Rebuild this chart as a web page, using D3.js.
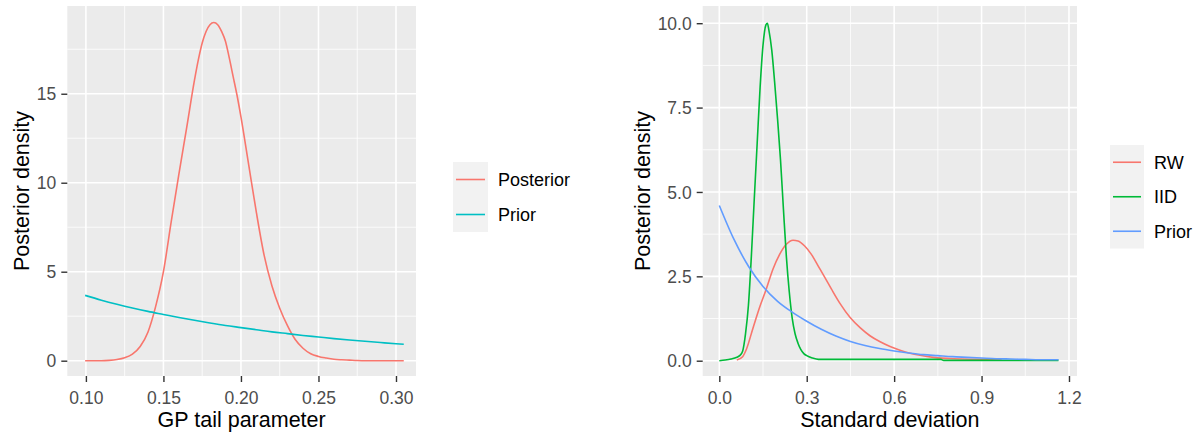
<!DOCTYPE html>
<html>
<head>
<meta charset="utf-8">
<script src="https://cdn.jsdelivr.net/npm/d3@7/dist/d3.min.js"></script>
<style>
  html, body { margin: 0; padding: 0; background: #ffffff; }
  svg { display: block; font-family: "Liberation Sans", Arial, sans-serif; }
</style>
</head>
<body>
<svg id="chart" width="1201" height="436"></svg>
<script>
// ---- GP tail parameter: posterior and prior densities ----
const tailX = [0.0995, 0.105, 0.110, 0.115, 0.120, 0.125, 0.130, 0.135, 0.140, 0.145,
  0.150, 0.155, 0.160, 0.165, 0.170, 0.1725, 0.175, 0.1775, 0.180, 0.1825, 0.185,
  0.1875, 0.190, 0.1925, 0.195, 0.1975, 0.200, 0.205, 0.210, 0.215, 0.220, 0.225,
  0.230, 0.235, 0.240, 0.245, 0.250, 0.255, 0.260, 0.265, 0.270, 0.275, 0.280,
  0.290, 0.305];
const tailPosterior = [0, 0, 0, 0.02, 0.07, 0.17, 0.37, 0.80, 1.60, 3.05,
  5.0, 7.8, 10.5, 13.1, 15.75, 16.9, 17.85, 18.5, 18.88, 19.0, 18.88,
  18.5, 17.95, 17.0, 15.95, 14.9, 13.7, 11.0, 8.3, 5.9, 4.2, 2.95,
  1.97, 1.19, 0.70, 0.39, 0.24, 0.15, 0.08, 0.05, 0.03, 0.01, 0,
  0, 0];
const tailPriorX = [0.0995, 0.11, 0.12, 0.13, 0.14, 0.15, 0.16, 0.17, 0.18, 0.19, 0.20,
  0.21, 0.22, 0.23, 0.24, 0.25, 0.26, 0.27, 0.28, 0.29, 0.30, 0.305];
const tailPrior = [3.67, 3.40, 3.17, 2.96, 2.77, 2.60, 2.43, 2.27, 2.12, 1.98, 1.86,
  1.74, 1.62, 1.52, 1.42, 1.33, 1.24, 1.16, 1.09, 1.02, 0.95, 0.92];
const tailSeries = ["Posterior", "Prior"];
const tailXTicks = [0.10, 0.15, 0.20, 0.25, 0.30];
const tailXMinor = [0.125, 0.175, 0.225, 0.275];
const tailYTicks = [0, 5, 10, 15];
const tailYMinor = [2.5, 7.5, 12.5, 17.5];

// ---- Standard deviation: RW, IID and prior densities ----
const rwX = [0.06, 0.08, 0.093, 0.116, 0.139, 0.161, 0.184, 0.207, 0.230, 0.253, 0.270,
  0.293, 0.316, 0.339, 0.362, 0.385, 0.414, 0.449, 0.483, 0.517, 0.552, 0.586,
  0.620, 0.655, 0.689, 0.735, 0.803, 0.918, 0.969];
const rwY = [0.02, 0.12, 0.34, 0.98, 1.60, 2.12, 2.71, 3.15, 3.45, 3.57, 3.55,
  3.40, 3.15, 2.81, 2.47, 2.12, 1.70, 1.28, 0.98, 0.74, 0.56, 0.42,
  0.31, 0.22, 0.16, 0.10, 0.06, 0.04, 0.04];
const iidX = [0.00, 0.02, 0.04, 0.06, 0.07, 0.08, 0.09, 0.10, 0.11, 0.12, 0.13, 0.14,
  0.15, 0.16, 0.165, 0.17, 0.18, 0.19, 0.20, 0.21, 0.22, 0.23, 0.24, 0.25,
  0.26, 0.27, 0.28, 0.29, 0.30, 0.32, 0.34, 0.50, 0.76, 0.77, 1.164];
const iidY = [0, 0.02, 0.05, 0.10, 0.15, 0.28, 0.80, 1.65, 3.1, 4.8, 6.45, 8.1,
  9.35, 9.95, 10.0, 9.8, 9.2, 8.24, 7.15, 5.95, 4.5, 3.1, 2.05, 1.27,
  0.80, 0.52, 0.33, 0.21, 0.15, 0.08, 0.04, 0.04, 0.04, 0.01, 0.01];
const sdPriorX = [0.0, 0.05, 0.10, 0.15, 0.20, 0.25, 0.30, 0.35, 0.40, 0.45, 0.50,
  0.55, 0.60, 0.65, 0.70, 0.75, 0.80, 0.85, 0.90, 0.95, 1.00, 1.05, 1.10, 1.164];
const sdPriorY = [4.60, 3.60, 2.80, 2.20, 1.76, 1.44, 1.17, 0.93, 0.73, 0.57, 0.45,
  0.36, 0.29, 0.23, 0.18, 0.15, 0.12, 0.10, 0.08, 0.06, 0.05, 0.04, 0.03, 0.03];
const sdSeries = ["RW", "IID", "Prior"];
const sdXTicks = [0.0, 0.3, 0.6, 0.9, 1.2];
const sdXMinor = [0.15, 0.45, 0.75, 1.05];
const sdYTicks = [0, 2.5, 5.0, 7.5, 10.0];
const sdYMinor = [1.25, 3.75, 6.25, 8.75];

const zip = (xs, ys) => xs.map((x, i) => ({ x, y: ys[i] }));

const svg = d3.select("#chart");

function panel(opts) {
  const { box, xDomain, yDomain, xTicks, xMinor, yTicks, yMinor, xFmt, yFmt,
          xTitle, yTitle, yTitleX, series, legend } = opts;
  const x = d3.scaleLinear().domain(xDomain).range([box.left, box.right]);
  const y = d3.scaleLinear().domain(yDomain).range([box.bottom, box.top]);
  const g = svg.append("g");

  g.append("rect")
    .attr("x", box.left).attr("y", box.top)
    .attr("width", box.right - box.left).attr("height", box.bottom - box.top)
    .attr("fill", "#EBEBEB");

  // grid: minor then major
  g.selectAll(".vminor").data(xMinor).join("line")
    .attr("x1", d => x(d)).attr("x2", d => x(d))
    .attr("y1", box.top).attr("y2", box.bottom)
    .attr("stroke", "#fff").attr("stroke-width", 0.8);
  g.selectAll(".hminor").data(yMinor).join("line")
    .attr("y1", d => y(d)).attr("y2", d => y(d))
    .attr("x1", box.left).attr("x2", box.right)
    .attr("stroke", "#fff").attr("stroke-width", 0.8);
  g.selectAll(".vmajor").data(xTicks).join("line")
    .attr("x1", d => x(d)).attr("x2", d => x(d))
    .attr("y1", box.top).attr("y2", box.bottom)
    .attr("stroke", "#fff").attr("stroke-width", 1.6);
  g.selectAll(".hmajor").data(yTicks).join("line")
    .attr("y1", d => y(d)).attr("y2", d => y(d))
    .attr("x1", box.left).attr("x2", box.right)
    .attr("stroke", "#fff").attr("stroke-width", 1.6);

  // series
  const line = d3.line().x(d => x(d.x)).y(d => y(d.y)).curve(d3.curveMonotoneX);
  series.forEach(s => {
    g.append("path").datum(s.data)
      .attr("d", line)
      .attr("fill", "none")
      .attr("stroke", s.color)
      .attr("stroke-width", 1.6)
      .attr("stroke-linejoin", "round");
  });

  // axes
  const xAxis = d3.axisBottom(x).tickValues(xTicks).tickFormat(xFmt)
    .tickSize(6).tickPadding(5);
  const gx = g.append("g").attr("transform", `translate(0,${box.bottom})`).call(xAxis);
  gx.select(".domain").remove();
  gx.selectAll(".tick line").attr("stroke", "#333333").attr("stroke-width", 1.4);
  gx.selectAll(".tick text").attr("fill", "#4D4D4D")
    .style("font-size", "17.5px").attr("dy", "0.95em");

  const yAxis = d3.axisLeft(y).tickValues(yTicks).tickFormat(yFmt)
    .tickSize(6).tickPadding(5);
  const gy = g.append("g").attr("transform", `translate(${box.left},0)`).call(yAxis);
  gy.select(".domain").remove();
  gy.selectAll(".tick line").attr("stroke", "#333333").attr("stroke-width", 1.4);
  gy.selectAll(".tick text").attr("fill", "#4D4D4D")
    .style("font-size", "17.5px").attr("dy", "0.35em");

  // titles
  g.append("text")
    .attr("x", (box.left + box.right) / 2).attr("y", 427)
    .attr("text-anchor", "middle").attr("fill", "#000")
    .style("font-size", "21.5px").text(xTitle);
  g.append("text")
    .attr("transform", `translate(${yTitleX},${(box.top + box.bottom) / 2}) rotate(-90)`)
    .attr("text-anchor", "middle").attr("fill", "#000")
    .style("font-size", "21.5px").text(yTitle);

  // legend
  const lg = svg.append("g");
  const n = series.length;
  lg.append("rect")
    .attr("x", legend.x).attr("y", legend.y)
    .attr("width", legend.w).attr("height", legend.step * n)
    .attr("fill", "#F2F2F2");
  series.forEach((s, i) => {
    const cy = legend.y + legend.step * (i + 0.5);
    lg.append("line")
      .attr("x1", legend.x + 3).attr("x2", legend.x + legend.w - 3)
      .attr("y1", cy).attr("y2", cy)
      .attr("stroke", s.color).attr("stroke-width", 1.6);
    lg.append("text")
      .attr("x", legend.x + legend.w + 10).attr("y", cy)
      .attr("dy", "0.35em").attr("fill", "#000")
      .style("font-size", "18px").text(s.name);
  });
}

panel({
  box: { left: 67.3, right: 416, top: 6, bottom: 376 },
  xDomain: [0.0880, 0.3129],
  yDomain: [-0.86, 19.93],
  xTicks: tailXTicks, xMinor: tailXMinor,
  yTicks: tailYTicks, yMinor: tailYMinor,
  xFmt: d3.format(".2f"), yFmt: d3.format("d"),
  xTitle: "GP tail parameter", yTitle: "Posterior density", yTitleX: 29,
  series: [
    { name: tailSeries[0], color: "#F8766D", data: zip(tailX, tailPosterior) },
    { name: tailSeries[1], color: "#00BFC4", data: zip(tailPriorX, tailPrior) }
  ],
  legend: { x: 453, y: 162, w: 35, step: 35 }
});

panel({
  box: { left: 702.7, right: 1077, top: 6, bottom: 376 },
  xDomain: [-0.057, 1.2275],
  yDomain: [-0.453, 10.51],
  xTicks: sdXTicks, xMinor: sdXMinor,
  yTicks: sdYTicks, yMinor: sdYMinor,
  xFmt: d3.format(".1f"), yFmt: d3.format(".1f"),
  xTitle: "Standard deviation", yTitle: "Posterior density", yTitleX: 649.5,
  series: [
    { name: sdSeries[0], color: "#F8766D", data: zip(rwX, rwY) },
    { name: sdSeries[1], color: "#00BA38", data: zip(iidX, iidY) },
    { name: sdSeries[2], color: "#619CFF", data: zip(sdPriorX, sdPriorY) }
  ],
  legend: { x: 1110, y: 145, w: 34, step: 34.5 }
});
</script>
</body>
</html>
